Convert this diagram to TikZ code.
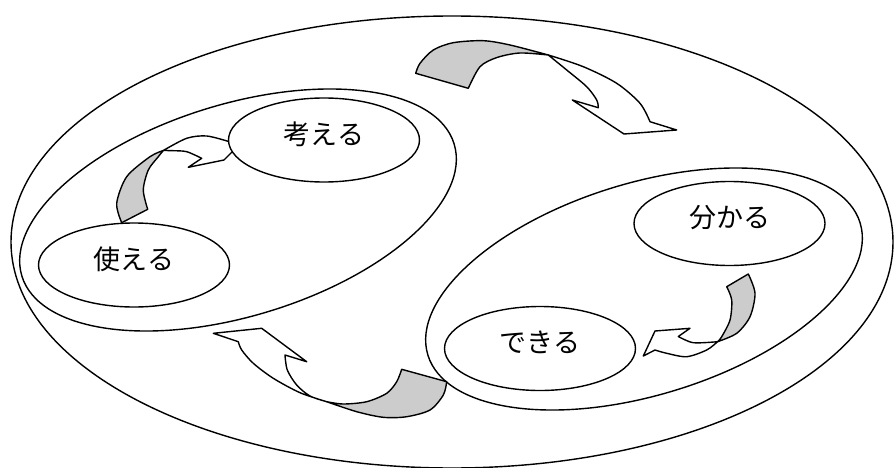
\documentclass[tikz,border=0pt]{standalone}
\usepackage{fontspec}
\newfontfamily\jpfont{Noto Sans CJK JP}
\usetikzlibrary{shapes.geometric}
\definecolor{backgray}{HTML}{CCCCCC}
\begin{document}
\begin{tikzpicture}[x=1pt,y=-1pt,line width=1.4pt,line join=round,
  bubble/.style={ellipse,draw,fill=white,minimum width=191pt,minimum height=84pt,
    inner sep=0pt,font=\jpfont\fontsize{27}{30}\selectfont,text depth=14pt},
  group/.style={draw},
  frontface/.style={draw,fill=white},
  backface/.style={draw,fill=backgray}]
\useasboundingbox (0,0) rectangle (896,468);

% outer frame and the two tilted groups
\draw (452,242) ellipse [x radius=441pt,y radius=226pt];
\draw[group,rotate around={17:(238,210)}] (238,210) ellipse [x radius=226pt,y radius=106pt];
\draw[group,rotate around={17:(644,289)}] (644,289) ellipse [x radius=226pt,y radius=106pt];

% top curved arrow (left group -> right group)
\path[backface] plot[smooth] coordinates {(415.7,73.3) (420,63.3) (433.3,50) (453.3,42.7) (483.3,40.7) (510,45) (548.3,55)}
  -- plot[smooth] coordinates {(548.3,55) (520,53) (497,57.5) (480,66.7) (468.3,88.3)} -- cycle;
\path[frontface] plot[smooth] coordinates {(548.3,55) (583.3,66.7) (616.7,83.3) (640,103.3) (650,121.7)}
  -- (676.7,130) -- (624,134) -- (572.3,100) -- (598.3,107.7)
  -- plot[smooth] coordinates {(598.3,107.7) (596.7,100) (586.7,86.7) (566.7,70) (548.3,55)} -- cycle;

% left curved arrow (use -> think)
\path[backface] plot[smooth] coordinates {(121.7,222.7) (116.7,203.3) (126.7,176.7) (150,156.7) (163.3,150.5)}
  -- plot[smooth] coordinates {(163.3,150.5) (158.3,156.7) (148.3,170) (143.3,190) (147.7,209.3)} -- cycle;
\path[frontface] plot[smooth] coordinates {(163.3,150.5) (186.7,138.3) (206.7,136) (229.3,141.7)}
  -- (238,146) -- (224,160) -- (188.3,167.3) -- (201.7,158.3)
  -- plot[smooth] coordinates {(201.7,158.3) (186.7,151.7) (173.3,150.7) (163.3,150.5)} -- cycle;

% bottom curved arrow (right group -> left group)
\path[backface] plot[smooth] coordinates {(401.7,369.3) (396.7,381.7) (386.7,393.3) (366.7,401.7) (343.3,404) (326.7,401.7)}
  -- plot[smooth] coordinates {(326.7,401.7) (356.7,411.7) (383.3,417.3) (406.7,416.7) (430,410) (443.3,395) (446.7,381.7)} -- cycle;
\path[frontface] plot[smooth] coordinates {(326.7,401.7) (300,392.7) (273.3,378.3) (253.3,363.3) (241.7,350) (238.3,341.7)}
  -- (213.3,333.3) -- (261.7,328.3) -- (306.7,361.7) -- (285,355)
  -- plot[smooth] coordinates {(285,355) (287.3,370) (296.7,385) (310,396) (326.7,401.7)} -- cycle;

% right curved arrow (understand -> can do)
\path[backface] plot[smooth] coordinates {(726.7,286.7) (731.7,300) (730,320) (721.7,336.7) (717.5,341.7)}
  -- plot[smooth] coordinates {(717.5,341.7) (736.7,333.3) (750,316.7) (755,293.3) (748.3,274)} -- cycle;
\path[frontface] plot[smooth] coordinates {(717.5,341.7) (706.7,350) (686.7,356.7) (666.7,353.3) (655,350)}
  -- (643.3,356) -- (655,331) -- (690,328.3) -- (678.3,336.5)
  -- plot[smooth] coordinates {(678.3,336.5) (693.3,342.7) (717.5,341.7)} -- cycle;

% the four activities
\node[bubble] (think) at (324,140) {考える};
\node[bubble] (use) at (134,265) {使える};
\node[bubble] (know) at (729.5,223.5) {分かる};
\node[bubble] (cando) at (540,348.5) {できる};
\end{tikzpicture}
\end{document}
